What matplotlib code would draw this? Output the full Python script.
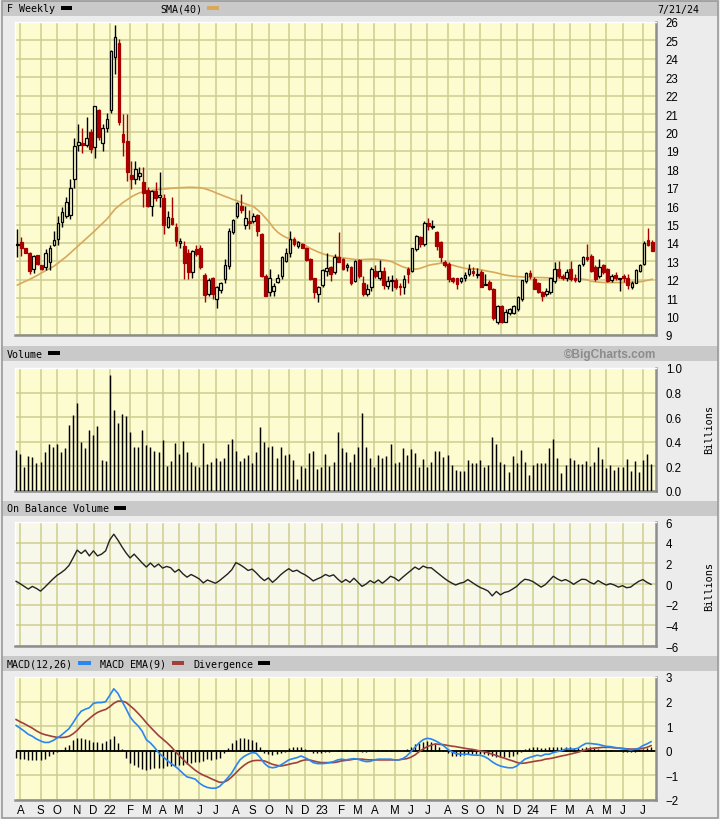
import numpy as np
import matplotlib
matplotlib.use("Agg")
import matplotlib.pyplot as plt
from matplotlib.patches import Rectangle

# weekly candles, F, 7/30/21 .. 7/21/24
OPEN = [13.88, 14.03, 13.70, 13.45, 12.61, 13.34, 12.79, 12.72, 12.97, 13.88,
        14.24, 15.15, 15.48, 15.51, 17.47, 19.33, 19.42, 19.32, 20.00, 19.19,
        21.22, 19.42, 20.22, 21.22, 24.08, 24.86, 19.91, 19.55, 17.68, 17.47,
        17.61, 17.32, 16.89, 16.02, 16.83, 16.52, 16.42, 14.84, 15.33, 14.88,
        13.97, 13.84, 13.48, 12.43, 13.66, 13.75, 12.25, 11.22, 12.07, 10.95,
        11.45, 12.03, 12.76, 14.57, 15.47, 15.98, 14.97, 15.20, 15.20, 15.51,
        14.48, 12.21, 11.31, 11.40, 11.89, 12.21, 13.03, 13.48, 14.20, 13.84,
        13.93, 13.75, 13.15, 12.09, 11.22, 11.70, 12.45, 12.72, 12.43, 13.21,
        13.12, 12.67, 12.67, 11.94, 13.10, 11.85, 11.22, 11.58, 12.49, 12.08,
        12.49, 11.67, 11.95, 11.99, 11.67, 11.63, 12.58, 12.49, 13.66, 14.30,
        13.93, 15.11, 14.88, 14.57, 14.03, 12.94, 12.85, 12.07, 12.07, 11.94,
        12.07, 12.30, 12.49, 12.28, 12.40, 11.74, 11.89, 11.49, 9.72, 10.55,
        9.72, 10.18, 10.22, 10.40, 10.95, 11.94, 12.36, 12.03, 11.80, 11.31,
        11.22, 11.31, 11.94, 12.61, 12.21, 12.07, 12.58, 12.12, 11.94, 12.85,
        13.26, 13.30, 12.72, 12.21, 12.79, 12.58, 11.99, 12.25, 12.05, 12.20,
        12.07, 11.58, 11.85, 12.49, 12.85, 14.15, 14.03]
HIGH = [14.75, 14.30, 13.75, 13.50, 13.34, 13.36, 12.82, 13.66, 13.88, 14.66,
        15.44, 15.93, 16.47, 17.50, 19.68, 20.46, 20.22, 20.82, 20.20, 21.45,
        21.30, 20.46, 21.04, 24.50, 25.84, 25.08, 21.00, 21.00, 18.46, 18.46,
        18.10, 18.10, 17.05, 16.90, 17.33, 17.83, 16.65, 15.75, 16.52, 15.10,
        14.25, 14.12, 13.66, 13.62, 13.88, 13.88, 12.35, 12.12, 12.15, 11.67,
        11.90, 13.12, 14.79, 15.30, 16.23, 16.65, 15.98, 15.80, 15.65, 15.55,
        14.55, 12.30, 12.60, 11.85, 12.30, 13.30, 13.75, 14.66, 14.30, 14.12,
        14.00, 13.80, 13.20, 12.10, 11.67, 12.60, 13.45, 12.76, 13.40, 14.60,
        13.20, 12.90, 12.75, 13.10, 13.15, 12.20, 11.76, 12.72, 12.80, 13.08,
        12.72, 12.20, 12.25, 12.07, 11.85, 12.25, 12.72, 13.75, 14.45, 14.40,
        15.20, 15.38, 15.25, 14.65, 14.10, 13.05, 12.95, 12.15, 12.10, 12.15,
        12.40, 12.85, 12.72, 12.66, 12.55, 12.30, 12.00, 11.55, 10.62, 10.62,
        10.40, 10.45, 10.62, 11.10, 12.00, 12.40, 12.55, 12.15, 11.90, 11.40,
        11.55, 12.10, 12.95, 13.02, 12.30, 12.58, 13.02, 12.30, 12.85, 13.30,
        13.95, 13.40, 12.80, 13.12, 12.85, 12.65, 12.30, 12.40, 12.12, 12.30,
        12.30, 11.95, 12.60, 12.85, 14.10, 14.79, 14.15]
LOW = [13.26, 13.30, 13.45, 12.30, 12.36, 12.80, 12.55, 12.54, 12.54, 13.85,
       13.88, 14.84, 15.33, 15.30, 17.00, 19.00, 18.88, 19.22, 18.88, 18.59,
       19.60, 19.00, 20.04, 21.05, 23.17, 20.40, 18.73, 17.38, 16.92, 17.20,
       17.40, 15.93, 15.95, 15.44, 16.30, 15.93, 14.48, 14.80, 14.95, 13.84,
       13.75, 12.03, 12.03, 12.12, 13.30, 12.60, 10.80, 11.13, 10.95, 10.49,
       11.30, 11.85, 12.58, 14.48, 15.33, 15.60, 14.75, 14.75, 15.11, 14.39,
       12.15, 11.10, 11.13, 11.13, 11.80, 12.03, 12.94, 13.21, 13.84, 13.75,
       13.70, 13.00, 12.00, 11.00, 10.80, 11.60, 12.20, 11.94, 12.30, 12.94,
       12.55, 12.50, 11.70, 11.90, 12.10, 11.10, 11.10, 11.40, 12.10, 12.00,
       11.49, 11.50, 11.40, 11.49, 11.16, 11.22, 11.80, 12.40, 13.55, 13.80,
       13.85, 14.70, 14.75, 13.60, 12.94, 12.70, 11.90, 11.85, 11.49, 11.85,
       11.95, 12.20, 12.20, 12.10, 11.85, 11.70, 11.45, 9.80, 9.59, 9.65,
       9.68, 10.10, 10.15, 10.30, 10.85, 11.85, 12.05, 11.70, 11.30, 10.85,
       11.10, 11.25, 11.85, 12.10, 12.00, 11.95, 11.95, 11.90, 11.90, 12.75,
       13.00, 12.40, 11.95, 12.10, 12.30, 11.90, 11.90, 12.00, 11.40, 11.90,
       11.50, 11.50, 11.80, 12.40, 12.80, 13.85, 13.55]
CLOSE = [13.92, 13.72, 13.48, 12.50, 13.27, 12.85, 12.61, 13.48, 13.75, 14.15,
         15.08, 15.66, 16.24, 17.00, 19.28, 19.46, 19.32, 19.68, 19.10, 21.42,
         19.73, 20.22, 20.73, 24.41, 25.17, 20.55, 19.46, 17.87, 17.47, 18.01,
         17.79, 16.71, 15.98, 16.83, 16.42, 16.58, 14.97, 15.42, 15.02, 14.12,
         14.12, 12.90, 12.43, 13.57, 13.39, 12.67, 11.16, 12.00, 11.22, 11.58,
         11.85, 12.79, 14.66, 15.26, 16.16, 15.80, 15.38, 15.11, 15.44, 14.66,
         12.21, 11.13, 12.12, 11.67, 12.12, 13.21, 13.48, 14.20, 13.93, 14.06,
         13.75, 13.06, 12.03, 11.31, 11.63, 12.54, 12.65, 12.34, 13.26, 12.97,
         12.61, 12.79, 11.85, 13.03, 12.20, 11.22, 11.49, 12.58, 12.21, 12.50,
         11.70, 11.94, 12.00, 11.63, 11.58, 12.03, 12.30, 13.70, 14.35, 13.93,
         15.08, 14.90, 14.93, 13.84, 13.21, 12.79, 12.03, 11.94, 11.76, 12.10,
         12.25, 12.58, 12.36, 12.32, 11.63, 11.76, 11.49, 9.90, 10.55, 9.71,
         10.26, 10.40, 10.58, 11.04, 12.00, 12.36, 12.18, 11.49, 11.31, 11.13,
         11.40, 12.12, 12.61, 12.21, 12.07, 12.40, 12.03, 11.99, 12.79, 13.21,
         13.12, 12.49, 12.03, 12.72, 12.40, 11.94, 12.21, 12.07, 12.09, 12.07,
         11.70, 11.85, 12.54, 12.79, 13.97, 13.90, 13.57]
SMA40 = [11.71, 11.82, 11.92, 12.02, 12.13, 12.25, 12.38, 12.50, 12.62, 12.74,
         12.90, 13.08, 13.25, 13.45, 13.65, 13.85, 14.05, 14.25, 14.45, 14.65,
         14.87, 15.08, 15.29, 15.56, 15.84, 16.02, 16.20, 16.35, 16.50, 16.62,
         16.72, 16.78, 16.81, 16.85, 16.88, 16.91, 16.93, 16.95, 16.97, 16.99,
         17.00, 17.01, 17.02, 17.02, 17.01, 17.00, 16.95, 16.88, 16.80, 16.70,
         16.62, 16.53, 16.45, 16.36, 16.29, 16.21, 16.13, 16.05, 15.98, 15.80,
         15.60, 15.35, 15.10, 14.80, 14.58, 14.42, 14.30, 14.22, 14.13, 14.05,
         13.95, 13.84, 13.70, 13.60, 13.50, 13.42, 13.34, 13.30, 13.26, 13.22,
         13.19, 13.16, 13.13, 13.10, 13.08, 13.10, 13.11, 13.12, 13.11, 13.10,
         13.07, 13.04, 12.98, 12.88, 12.77, 12.68, 12.62, 12.58, 12.58, 12.62,
         12.70, 12.78, 12.83, 12.86, 12.90, 12.88, 12.84, 12.79, 12.73, 12.67,
         12.62, 12.60, 12.59, 12.58, 12.54, 12.49, 12.45, 12.41, 12.36, 12.30,
         12.25, 12.22, 12.19, 12.17, 12.16, 12.14, 12.13, 12.12, 12.12, 12.12,
         12.11, 12.10, 12.10, 12.09, 12.08, 12.08, 12.07, 12.06, 12.05, 12.03,
         12.00, 11.92, 11.89, 11.87, 11.85, 11.85, 11.85, 11.85, 11.85, 11.85,
         11.85, 11.86, 11.87, 11.89, 11.93, 11.98, 12.03]
# billions of shares
VOLUME = [0.33, 0.30, 0.195, 0.285, 0.276, 0.225, 0.236, 0.317, 0.38, 0.358,
          0.38, 0.317, 0.35, 0.534, 0.615, 0.713, 0.40, 0.35, 0.50, 0.455,
          0.528, 0.252, 0.244, 0.943, 0.659, 0.553, 0.623, 0.61, 0.48, 0.355,
          0.355, 0.493, 0.371, 0.358, 0.322, 0.317, 0.412, 0.203, 0.244, 0.388,
          0.298, 0.404, 0.314, 0.236, 0.20, 0.192, 0.39, 0.217, 0.236, 0.268,
          0.244, 0.268, 0.38, 0.42, 0.322, 0.241, 0.266, 0.29, 0.228, 0.314,
          0.518, 0.396, 0.358, 0.363, 0.268, 0.355, 0.29, 0.298, 0.249, 0.095,
          0.20, 0.187, 0.306, 0.322, 0.179, 0.195, 0.298, 0.20, 0.233, 0.477,
          0.35, 0.314, 0.233, 0.30, 0.355, 0.631, 0.355, 0.266, 0.195, 0.29,
          0.266, 0.282, 0.38, 0.225, 0.233, 0.347, 0.29, 0.339, 0.306, 0.195,
          0.257, 0.195, 0.233, 0.322, 0.322, 0.274, 0.29, 0.209, 0.168, 0.16,
          0.16, 0.249, 0.225, 0.225, 0.249, 0.195, 0.209, 0.436, 0.38, 0.233,
          0.217, 0.152, 0.282, 0.225, 0.331, 0.233, 0.127, 0.209, 0.225, 0.225,
          0.225, 0.347, 0.42, 0.266, 0.144, 0.209, 0.266, 0.249, 0.217, 0.217,
          0.241, 0.20, 0.233, 0.355, 0.257, 0.184, 0.209, 0.168, 0.195, 0.195,
          0.257, 0.16, 0.241, 0.152, 0.249, 0.298, 0.217]
OBV = [0.26, 0.03, -0.23, -0.49, -0.23, -0.43, -0.69, -0.33, 0.07, 0.46,
       0.82, 1.08, 1.38, 1.80, 2.52, 3.28, 2.95, 3.28, 2.72, 3.21,
       2.72, 2.89, 3.21, 4.26, 4.82, 4.26, 3.61, 3.02, 2.52, 2.89,
       2.46, 2.03, 1.64, 2.03, 1.64, 1.93, 1.54, 1.70, 1.57, 1.15,
       1.41, 0.98, 0.66, 0.92, 0.72, 0.49, 0.10, 0.39, 0.23, 0.07,
       0.33, 0.66, 0.98, 1.38, 2.07, 1.87, 1.61, 1.31, 1.44, 1.08,
       0.66, 0.33, 0.59, 0.16, 0.49, 0.89, 1.21, 1.48, 1.21, 1.34,
       1.08, 0.89, 0.62, 0.30, 0.49, 0.66, 0.92, 0.75, 0.89, 0.49,
       0.16, 0.43, 0.16, 0.56, 0.16, -0.23, 0.00, 0.33, 0.10, 0.39,
       0.07, 0.39, 0.75, 0.59, 0.30, 0.66, 0.98, 1.31, 1.64, 1.41,
       1.74, 1.57, 1.57, 1.25, 0.92, 0.62, 0.33, 0.10, -0.10, 0.07,
       0.16, 0.43, 0.16, -0.10, -0.33, -0.49, -0.69, -1.15, -0.72, -1.05,
       -0.82, -0.72, -0.49, -0.23, 0.16, 0.46, 0.39, 0.23, -0.03, -0.30,
       -0.07, 0.33, 0.75, 0.49, 0.30, 0.43, 0.23, -0.03, 0.23, 0.46,
       0.43, 0.16, 0.00, 0.33, 0.10, -0.10, 0.03, -0.10, -0.30, -0.16,
       -0.36, -0.30, 0.00, 0.26, 0.43, 0.16, -0.03]
MACD = [1.03, 0.92, 0.80, 0.67, 0.59, 0.48, 0.40, 0.34, 0.34, 0.41,
        0.51, 0.62, 0.76, 0.90, 1.14, 1.40, 1.61, 1.69, 1.75, 1.93,
        1.96, 1.96, 2.00, 2.25, 2.52, 2.34, 2.02, 1.72, 1.38, 1.17,
        1.01, 0.79, 0.45, 0.32, 0.14, -0.07, -0.23, -0.37, -0.51, -0.62,
        -0.76, -0.92, -1.06, -1.10, -1.15, -1.31, -1.42, -1.49, -1.52, -1.52,
        -1.45, -1.28, -1.10, -0.90, -0.62, -0.37, -0.23, -0.14, -0.07, -0.10,
        -0.28, -0.51, -0.65, -0.69, -0.66, -0.58, -0.48, -0.37, -0.32, -0.28,
        -0.21, -0.28, -0.37, -0.48, -0.52, -0.52, -0.51, -0.48, -0.44, -0.37,
        -0.34, -0.37, -0.34, -0.32, -0.34, -0.40, -0.44, -0.43, -0.37, -0.34,
        -0.34, -0.34, -0.34, -0.37, -0.37, -0.32, -0.21, -0.04, 0.14, 0.32,
        0.45, 0.51, 0.48, 0.41, 0.32, 0.21, 0.07, -0.04, -0.11, -0.14,
        -0.14, -0.14, -0.17, -0.18, -0.18, -0.23, -0.32, -0.45, -0.55, -0.62,
        -0.66, -0.69, -0.69, -0.62, -0.48, -0.34, -0.28, -0.23, -0.18, -0.21,
        -0.14, -0.14, -0.07, -0.03, 0.00, 0.07, 0.07, 0.07, 0.10, 0.21,
        0.30, 0.30, 0.28, 0.26, 0.22, 0.18, 0.17, 0.14, 0.11, 0.08,
        0.07, 0.03, 0.07, 0.10, 0.21, 0.28, 0.37]
SIGNAL = [1.27, 1.18, 1.10, 1.01, 0.92, 0.81, 0.72, 0.66, 0.62, 0.58,
          0.55, 0.54, 0.55, 0.59, 0.69, 0.83, 1.01, 1.17, 1.31, 1.45,
          1.56, 1.63, 1.68, 1.79, 1.93, 2.02, 2.02, 1.97, 1.83, 1.69,
          1.52, 1.34, 1.14, 0.96, 0.79, 0.62, 0.48, 0.34, 0.18, 0.00,
          -0.18, -0.34, -0.51, -0.65, -0.79, -0.90, -0.99, -1.06, -1.14, -1.21,
          -1.28, -1.28, -1.20, -1.06, -0.90, -0.73, -0.59, -0.48, -0.41, -0.39,
          -0.39, -0.41, -0.48, -0.55, -0.59, -0.62, -0.59, -0.55, -0.51, -0.48,
          -0.41, -0.37, -0.37, -0.41, -0.45, -0.48, -0.48, -0.48, -0.48, -0.45,
          -0.41, -0.39, -0.37, -0.34, -0.34, -0.34, -0.36, -0.37, -0.37, -0.37,
          -0.37, -0.37, -0.37, -0.37, -0.37, -0.34, -0.32, -0.26, -0.17, -0.04,
          0.07, 0.17, 0.23, 0.28, 0.26, 0.25, 0.22, 0.19, 0.17, 0.14,
          0.11, 0.08, 0.06, 0.03, -0.01, -0.04, -0.08, -0.14, -0.19, -0.25,
          -0.30, -0.36, -0.41, -0.47, -0.51, -0.50, -0.47, -0.44, -0.41, -0.39,
          -0.34, -0.32, -0.29, -0.25, -0.21, -0.18, -0.14, -0.10, -0.06, -0.01,
          0.04, 0.08, 0.11, 0.12, 0.14, 0.14, 0.14, 0.12, 0.11, 0.10,
          0.08, 0.07, 0.07, 0.07, 0.10, 0.14, 0.21]
DIVERGENCE = [-0.28, -0.32, -0.32, -0.37, -0.37, -0.37, -0.37, -0.32, -0.23, -0.14,
              -0.04, 0.05, 0.14, 0.23, 0.45, 0.52, 0.51, 0.48, 0.45, 0.37,
              0.34, 0.32, 0.41, 0.48, 0.59, 0.32, 0.07, -0.28, -0.48, -0.59,
              -0.65, -0.73, -0.79, -0.73, -0.69, -0.69, -0.69, -0.62, -0.62, -0.62,
              -0.59, -0.59, -0.55, -0.51, -0.45, -0.45, -0.41, -0.34, -0.37, -0.32,
              -0.28, -0.07, 0.11, 0.32, 0.45, 0.51, 0.51, 0.48, 0.45, 0.34,
              0.14, -0.07, -0.14, -0.18, -0.14, -0.10, -0.04, 0.10, 0.14, 0.17,
              0.17, 0.07, 0.00, -0.07, -0.10, -0.07, -0.04, -0.04, -0.01, 0.04,
              0.04, 0.04, 0.00, 0.04, 0.01, -0.03, -0.03, -0.01, 0.00, 0.02,
              0.02, 0.02, 0.02, 0.00, 0.00, 0.01, 0.07, 0.17, 0.28, 0.33,
              0.37, 0.40, 0.36, 0.27, 0.14, 0.03, -0.10, -0.20, -0.20, -0.20,
              -0.18, -0.15, -0.15, -0.14, -0.12, -0.12, -0.17, -0.22, -0.27, -0.27,
              -0.27, -0.24, -0.20, -0.12, -0.03, 0.07, 0.12, 0.14, 0.14, 0.10,
              0.12, 0.14, 0.14, 0.14, 0.14, 0.14, 0.14, 0.10, 0.10, 0.12,
              0.16, 0.14, 0.10, 0.07, 0.05, 0.03, 0.02, 0.01, -0.02, -0.03,
              -0.05, -0.05, -0.03, 0.02, 0.07, 0.10, 0.14]

# week index where each month starts, and its label
MONTH_IDX = [0, 5, 9, 14, 18, 22, 27, 31, 35, 39, 44, 48, 53, 57, 61, 66, 70, 74,
             79, 83, 87, 92, 96, 100, 105, 109, 113, 118, 122, 126, 131, 135, 140,
             144, 148, 153]
MONTH_LAB = ["A", "S", "O", "N", "D", "22", "F", "M", "A", "M", "J", "J", "A", "S",
             "O", "N", "D", "23", "F", "M", "A", "M", "J", "J", "A", "S", "O", "N",
             "D", "24", "F", "M", "A", "M", "J", "J"]

PRICE_TICKS = list(range(9, 27))
VOL_TICKS = [0.0, 0.2, 0.4, 0.6, 0.8, 1.0]
OBV_TICKS = [-6, -4, -2, 0, 2, 4, 6]
MACD_TICKS = [-2, -1, 0, 1, 2, 3]

W, H = 720, 820
BG = "#ececec"
BAR = "#c9c9c9"
YEL = "#fcfcd0"
PALE = "#f8f8ea"
GRID = "#cdcd90"
RED = "#a80000"
SMA_C = "#d9a85a"
BLUE = "#2a86f0"
BROWN = "#a0403c"
MONO = "DejaVu Sans Mono"
SANS = "Liberation Sans"

fig = plt.figure(figsize=(W / 100, H / 100), dpi=100)
fig.patch.set_facecolor(BG)


def rect(x0, y0, x1, y1, color, z=0):
    fig.add_artist(Rectangle((x0 / W, 1 - y1 / H), (x1 - x0) / W, (y1 - y0) / H,
                             transform=fig.transFigure, facecolor=color,
                             edgecolor="none", zorder=z))


def label(x, y, s, **kw):
    kw.setdefault("fontsize", 7.2)
    kw.setdefault("family", MONO)
    fig.text(x / W, 1 - y / H, s, ha=kw.pop("ha", "left"), va="center", **kw)


# outer frame and header bars
fig.add_artist(Rectangle((1.5 / W, 1.5 / H), 716.5 / W, 817 / H, transform=fig.transFigure,
                         facecolor="none", edgecolor="#9a9a9a", lw=1.2))
for y0 in (2, 347, 502, 657):
    rect(2, y0, 718, y0 + 15, BAR)

label(7, 9.5, "F Weekly")
rect(61, 7, 72, 11, "black", 2)
label(160, 9.5, "SMA(40)")
rect(207, 7, 219, 11, SMA_C, 2)
label(657, 9.5, "7/21/24")

label(7, 354.5, "Volume")
rect(48, 352, 60, 356, "black", 2)
label(656, 354.5, "\u00a9BigCharts.com", ha="right", family=SANS, fontsize=8.5,
      weight="bold", color="#8c8c8c")

label(7, 509.5, "On Balance Volume")
rect(114, 507, 126, 511, "black", 2)

label(7, 664.5, "MACD(12,26)")
rect(78, 662, 91, 666, BLUE, 2)
label(100, 664.5, "MACD EMA(9)")
rect(172, 662, 184, 666, BROWN, 2)
label(193, 664.5, "Divergence")
rect(258, 662, 270, 666, "black", 2)

label(709, 430, "Billions", rotation=90, ha="center", fontsize=7.4)
label(709, 587, "Billions", rotation=90, ha="center", fontsize=7.4)

x = np.arange(len(CLOSE))
grid_x = [m + 0.75 for m in MONTH_IDX]


def make_ax(top, bottom, ylim, ticks, labels, bg):
    ax = fig.add_axes([15 / W, 1 - bottom / H, 641 / W, (bottom - top) / H])
    ax.set_facecolor(bg)
    ax.set_xlim(-0.57, 156.93)
    ax.set_ylim(*ylim)
    ax.set_xticks(grid_x)
    ax.set_yticks(ticks)
    ax.set_yticklabels(labels, family=SANS, fontsize=8.3)
    ax.yaxis.tick_right()
    ax.tick_params(axis="y", length=0, pad=7)
    ax.tick_params(axis="x", length=0, labelbottom=False)
    ax.grid(True, color=GRID, lw=1.1)
    ax.set_axisbelow(True)
    for s in ("top", "left"):
        ax.spines[s].set_color("white")
        ax.spines[s].set_linewidth(1.0)
    for s in ("right", "bottom"):
        ax.spines[s].set_color("#8e8e8e")
        ax.spines[s].set_linewidth(1.8)
    return ax


# price panel
ax = make_ax(23, 336, (9, 26), PRICE_TICKS, [str(t) for t in PRICE_TICKS], YEL)
o, h, l, c = map(np.array, (OPEN, HIGH, LOW, CLOSE))
up = c >= o
ax.vlines(x[up], l[up], h[up], color="black", lw=1.0, zorder=3)
ax.vlines(x[~up], l[~up], h[~up], color=RED, lw=1.0, zorder=3)
lo = np.minimum(o, c)
ht = np.maximum(np.abs(c - o), 0.05)
ax.bar(x[up], ht[up], bottom=lo[up], width=0.66, facecolor=YEL, edgecolor="black",
       lw=0.9, zorder=4)
ax.bar(x[~up], ht[~up], bottom=lo[~up], width=0.66, facecolor=RED, edgecolor=RED,
       lw=0.9, zorder=4)
ax.plot(x, SMA40, color=SMA_C, lw=1.2, zorder=2)

# volume
ax = make_ax(369, 492, (0, 1.0), VOL_TICKS, [f"{t:.1f}" for t in VOL_TICKS], YEL)
ax.vlines(x - 0.3, 0, VOLUME, color="black", lw=1.05, zorder=3)

# on balance volume
ax = make_ax(523, 647, (-6, 6), OBV_TICKS, [str(t).replace("-", "\u2212") for t in OBV_TICKS], PALE)
ax.plot(x - 0.3, OBV, color="#222222", lw=1.0, zorder=3)

# MACD
ax = make_ax(678, 801, (-2, 3), MACD_TICKS, [str(t).replace("-", "\u2212") for t in MACD_TICKS], YEL)
ax.axhline(0, color="black", lw=1.3, zorder=2)
ax.vlines(x - 0.3, 0, DIVERGENCE, color="black", lw=1.0, zorder=3)
ax.plot(x - 0.3, SIGNAL, color=BROWN, lw=1.2, zorder=4)
ax.plot(x - 0.3, MACD, color=BLUE, lw=1.2, zorder=5)
ax.set_xticklabels(MONTH_LAB, family=SANS, fontsize=8.3)
ax.tick_params(axis="x", labelbottom=True, pad=3)

fig.savefig("out.png", dpi=100, facecolor=BG)
